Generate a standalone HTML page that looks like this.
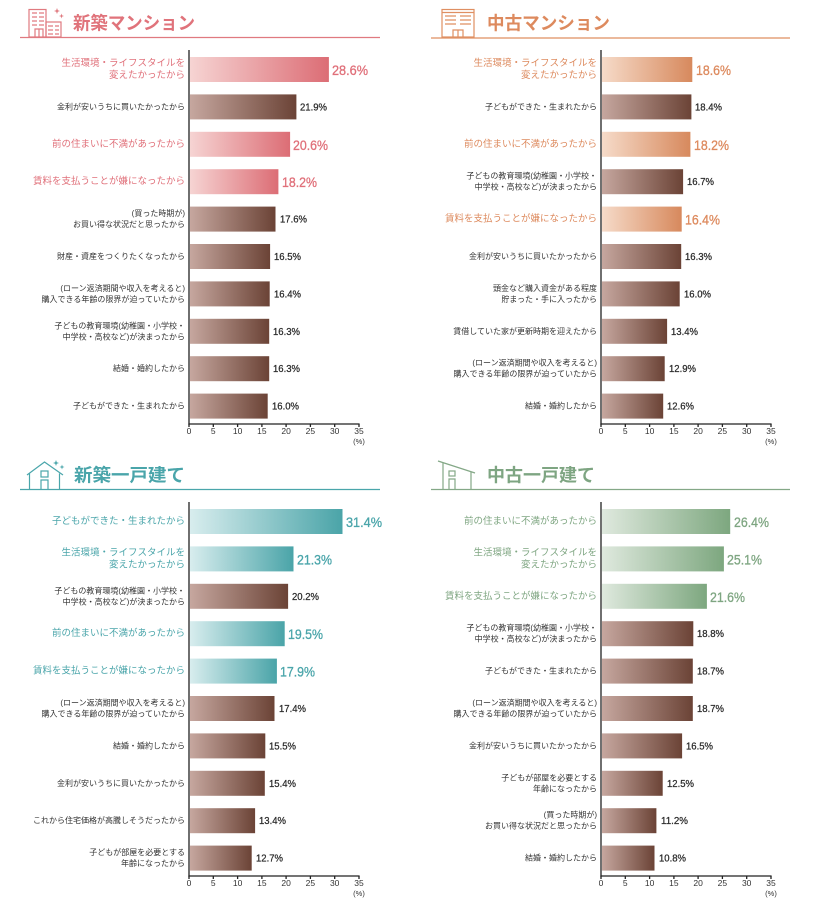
<!DOCTYPE html>
<html><head><meta charset="utf-8"><style>
html,body{margin:0;padding:0;background:#fff;}
svg{display:block;}
.l{font-family:"Liberation Sans","Noto Sans CJK JP",sans-serif;font-size:8px;fill:#333;text-anchor:end;dominant-baseline:central;}
.lh{font-size:9.5px;}
.v{font-family:"Liberation Sans",sans-serif;font-size:10.5px;fill:#2a2a2a;stroke:#2a2a2a;stroke-width:0.25;dominant-baseline:central;}
.vh{font-size:14px;stroke-width:0.3;}
.t{font-family:"Liberation Sans","Noto Sans CJK JP",sans-serif;font-size:18px;font-weight:bold;dominant-baseline:central;}
.tk{font-family:"Liberation Sans",sans-serif;font-size:8.5px;fill:#333;text-anchor:middle;dominant-baseline:central;}
.ax{stroke:#222;stroke-width:1.3;fill:none;}
</style></head><body>
<svg width="816" height="907" viewBox="0 0 816 907" xmlns="http://www.w3.org/2000/svg">
<defs>
<linearGradient id="gB" x1="0" x2="1" y1="0" y2="0"><stop offset="0" stop-color="#c6a79f"/><stop offset="1" stop-color="#6b4336"/></linearGradient>
<linearGradient id="gP" x1="0" x2="1" y1="0" y2="0"><stop offset="0" stop-color="#f6d4d3"/><stop offset="1" stop-color="#dc6d75"/></linearGradient>
<linearGradient id="gO" x1="0" x2="1" y1="0" y2="0"><stop offset="0" stop-color="#f6dbc9"/><stop offset="1" stop-color="#d7895d"/></linearGradient>
<linearGradient id="gT" x1="0" x2="1" y1="0" y2="0"><stop offset="0" stop-color="#d8edee"/><stop offset="1" stop-color="#4aa4a8"/></linearGradient>
<linearGradient id="gG" x1="0" x2="1" y1="0" y2="0"><stop offset="0" stop-color="#dfe9de"/><stop offset="1" stop-color="#7da77f"/></linearGradient>
<g id="axis">
<line class="ax" x1="189" y1="50" x2="189" y2="424.5"/>
<line class="ax" x1="188.4" y1="424" x2="359.6" y2="424"/>
<path class="ax" d="M213.3 424V427M237.6 424V427M261.9 424V427M286.1 424V427M310.4 424V427M334.7 424V427M359 424V427M189 424V427"/>
<text class="tk" x="189" y="431">0</text>
<text class="tk" x="213.3" y="431">5</text>
<text class="tk" x="237.6" y="431">10</text>
<text class="tk" x="261.9" y="431">15</text>
<text class="tk" x="286.1" y="431">20</text>
<text class="tk" x="310.4" y="431">25</text>
<text class="tk" x="334.7" y="431">30</text>
<text class="tk" x="359" y="431">35</text>
<text class="tk" x="359" y="441.5" style="font-size:7.5px">(%)</text>
</g>
</defs>

<!-- 新築マンション -->
<g fill="none" stroke="#e07a80" stroke-width="1.2">
<rect x="29" y="9.5" width="17" height="27.5"/>
<rect x="46" y="22" width="15" height="15"/>
<path d="M35 37V29H43V37M39 29V37"/>
<path d="M32 13H37M39 13H44M32 17H37M39 17H44M32 21H37M39 21H44M32 25H37M39 25H44M48 26H53M55 26H59M48 30H53M55 30H59M48 34H53M55 34H59"/>
</g>
<path d="M57 8L57.8 10.2L60 11L57.8 11.8L57 14L56.2 11.8L54 11L56.2 10.2Z M61.5 13.5L62.1 15.4L64 16L62.1 16.6L61.5 18.5L60.9 16.6L59 16L60.9 15.4Z" fill="#e07a80"/>
<line x1="20" y1="37.5" x2="380" y2="37.5" stroke="#e07a80" stroke-width="1.3"/>
<text class="t" x="73" y="23.5" fill="#e0737b" textLength="122" lengthAdjust="spacingAndGlyphs">新築マンション</text>

<!-- 中古マンション -->
<g fill="none" stroke="#df8f62" stroke-width="1.2">
<rect x="442" y="9.5" width="32" height="27.5"/>
<line x1="442" y1="12.5" x2="474" y2="12.5"/>
<path d="M453 37V30H463V37M458 30V37"/>
<path d="M445 16H456M460 16H471M445 20H456M460 20H471M445 24H456M460 24H471"/>
</g>
<line x1="431" y1="38" x2="790" y2="38" stroke="#df8f62" stroke-width="1.3"/>
<text class="t" x="487" y="23.5" fill="#dd8a5e" textLength="123" lengthAdjust="spacingAndGlyphs">中古マンション</text>

<!-- 新築一戸建て -->
<g fill="none" stroke="#4aa6ab" stroke-width="1.2">
<path d="M27 475L44.5 462L63 475"/>
<path d="M29.5 473.5V489M59.5 473.5V489"/>
<rect x="41" y="471" width="7" height="6"/>
<path d="M41 489V480H48V489"/>
</g>
<path d="M56 460L56.8 462.2L59 463L56.8 463.8L56 466L55.2 463.8L53 463L55.2 462.2Z M62 464.5L62.6 466.4L64.5 467L62.6 467.6L62 469.5L61.4 467.6L59.5 467L61.4 466.4Z" fill="#4aa6ab"/>
<line x1="20" y1="489.5" x2="380" y2="489.5" stroke="#4aa6ab" stroke-width="1.3"/>
<text class="t" x="74" y="475.5" fill="#4aa5aa" textLength="111" lengthAdjust="spacingAndGlyphs">新築一戸建て</text>

<!-- 中古一戸建て -->
<g fill="none" stroke="#84a887" stroke-width="1.2">
<path d="M438 461L475 473"/>
<path d="M443 462.6V489M471 471.7V489"/>
<rect x="449" y="471" width="6" height="5"/>
<path d="M449 489V479H455V489"/>
</g>
<line x1="431" y1="489.5" x2="790" y2="489.5" stroke="#84a887" stroke-width="1.3"/>
<text class="t" x="487" y="475.5" fill="#7ea582" textLength="108" lengthAdjust="spacingAndGlyphs">中古一戸建て</text>

<!-- PANEL 1 -->
<g>
<use href="#axis"/>
<rect x="190" y="57" width="138.9" height="25" fill="url(#gP)"/>
<text class="l lh" x="185" y="63.5" style="fill:#e0707a">生活環境・ライフスタイルを</text>
<text class="l lh" x="185" y="75.5" style="fill:#e0707a">変えたかったから</text>
<text class="v vh" x="332" y="70" style="fill:#e0707a;stroke:#e0707a" textLength="36" lengthAdjust="spacingAndGlyphs">28.6%</text>

<rect x="190" y="94.4" width="106.4" height="25" fill="url(#gB)"/>
<text class="l" x="185" y="106.9">金利が安いうちに買いたかったから</text>
<text class="v" x="300" y="107.4" textLength="27" lengthAdjust="spacingAndGlyphs">21.9%</text>

<rect x="190" y="131.8" width="100.1" height="25" fill="url(#gP)"/>
<text class="l lh" x="185" y="144.3" style="fill:#e0707a">前の住まいに不満があったから</text>
<text class="v vh" x="293" y="144.8" style="fill:#e0707a;stroke:#e0707a" textLength="35" lengthAdjust="spacingAndGlyphs">20.6%</text>

<rect x="190" y="169.2" width="88.4" height="25" fill="url(#gP)"/>
<text class="l lh" x="185" y="181.7" style="fill:#e0707a">賃料を支払うことが嫌になったから</text>
<text class="v vh" x="282" y="182.2" style="fill:#e0707a;stroke:#e0707a" textLength="35" lengthAdjust="spacingAndGlyphs">18.2%</text>

<rect x="190" y="206.6" width="85.5" height="25" fill="url(#gB)"/>
<text class="l" x="185" y="213.6">(買った時期が)</text>
<text class="l" x="185" y="224.6">お買い得な状況だと思ったから</text>
<text class="v" x="280" y="219.6" textLength="27" lengthAdjust="spacingAndGlyphs">17.6%</text>

<rect x="190" y="244" width="80.1" height="25" fill="url(#gB)"/>
<text class="l" x="185" y="256.5">財産・資産をつくりたくなったから</text>
<text class="v" x="274" y="257" textLength="27" lengthAdjust="spacingAndGlyphs">16.5%</text>

<rect x="190" y="281.4" width="79.7" height="25" fill="url(#gB)"/>
<text class="l" x="185" y="288.4">(ローン返済期間や収入を考えると)</text>
<text class="l" x="185" y="299.4">購入できる年齢の限界が迫っていたから</text>
<text class="v" x="274" y="294.4" textLength="27" lengthAdjust="spacingAndGlyphs">16.4%</text>

<rect x="190" y="318.8" width="79.2" height="25" fill="url(#gB)"/>
<text class="l" x="185" y="325.8">子どもの教育環境(幼稚園・小学校・</text>
<text class="l" x="185" y="336.8">中学校・高校など)が決まったから</text>
<text class="v" x="273" y="331.8" textLength="27" lengthAdjust="spacingAndGlyphs">16.3%</text>

<rect x="190" y="356.2" width="79.2" height="25" fill="url(#gB)"/>
<text class="l" x="185" y="368.7">結婚・婚約したから</text>
<text class="v" x="273" y="369.2" textLength="27" lengthAdjust="spacingAndGlyphs">16.3%</text>

<rect x="190" y="393.6" width="77.7" height="25" fill="url(#gB)"/>
<text class="l" x="185" y="406.1">子どもができた・生まれたから</text>
<text class="v" x="272" y="406.6" textLength="27" lengthAdjust="spacingAndGlyphs">16.0%</text>
</g>

<!-- PANEL 2 -->
<g transform="translate(412,0)">
<use href="#axis"/>
<rect x="190" y="57" width="90.3" height="25" fill="url(#gO)"/>
<text class="l lh" x="185" y="63.5" style="fill:#dd8a5e">生活環境・ライフスタイルを</text>
<text class="l lh" x="185" y="75.5" style="fill:#dd8a5e">変えたかったから</text>
<text class="v vh" x="284" y="70" style="fill:#dd8a5e;stroke:#dd8a5e" textLength="35" lengthAdjust="spacingAndGlyphs">18.6%</text>

<rect x="190" y="94.4" width="89.4" height="25" fill="url(#gB)"/>
<text class="l" x="185" y="106.9">子どもができた・生まれたから</text>
<text class="v" x="283" y="107.4" textLength="27" lengthAdjust="spacingAndGlyphs">18.4%</text>

<rect x="190" y="131.8" width="88.4" height="25" fill="url(#gO)"/>
<text class="l lh" x="185" y="144.3" style="fill:#dd8a5e">前の住まいに不満があったから</text>
<text class="v vh" x="282" y="144.8" style="fill:#dd8a5e;stroke:#dd8a5e" textLength="35" lengthAdjust="spacingAndGlyphs">18.2%</text>

<rect x="190" y="169.2" width="81.1" height="25" fill="url(#gB)"/>
<text class="l" x="185" y="176.2">子どもの教育環境(幼稚園・小学校・</text>
<text class="l" x="185" y="187.2">中学校・高校など)が決まったから</text>
<text class="v" x="275" y="182.2" textLength="27" lengthAdjust="spacingAndGlyphs">16.7%</text>

<rect x="190" y="206.6" width="79.7" height="25" fill="url(#gO)"/>
<text class="l lh" x="185" y="219.1" style="fill:#dd8a5e">賃料を支払うことが嫌になったから</text>
<text class="v vh" x="273" y="219.6" style="fill:#dd8a5e;stroke:#dd8a5e" textLength="35" lengthAdjust="spacingAndGlyphs">16.4%</text>

<rect x="190" y="244" width="79.2" height="25" fill="url(#gB)"/>
<text class="l" x="185" y="256.5">金利が安いうちに買いたかったから</text>
<text class="v" x="273" y="257" textLength="27" lengthAdjust="spacingAndGlyphs">16.3%</text>

<rect x="190" y="281.4" width="77.7" height="25" fill="url(#gB)"/>
<text class="l" x="185" y="288.4">頭金など購入資金がある程度</text>
<text class="l" x="185" y="299.4">貯まった・手に入ったから</text>
<text class="v" x="272" y="294.4" textLength="27" lengthAdjust="spacingAndGlyphs">16.0%</text>

<rect x="190" y="318.8" width="65.1" height="25" fill="url(#gB)"/>
<text class="l" x="185" y="331.3">賃借していた家が更新時期を迎えたから</text>
<text class="v" x="259" y="331.8" textLength="27" lengthAdjust="spacingAndGlyphs">13.4%</text>

<rect x="190" y="356.2" width="62.7" height="25" fill="url(#gB)"/>
<text class="l" x="185" y="363.2">(ローン返済期間や収入を考えると)</text>
<text class="l" x="185" y="374.2">購入できる年齢の限界が迫っていたから</text>
<text class="v" x="257" y="369.2" textLength="27" lengthAdjust="spacingAndGlyphs">12.9%</text>

<rect x="190" y="393.6" width="61.2" height="25" fill="url(#gB)"/>
<text class="l" x="185" y="406.1">結婚・婚約したから</text>
<text class="v" x="255" y="406.6" textLength="27" lengthAdjust="spacingAndGlyphs">12.6%</text>
</g>

<!-- PANEL 3 -->
<g transform="translate(0,452)">
<use href="#axis"/>
<rect x="190" y="57" width="152.5" height="25" fill="url(#gT)"/>
<text class="l lh" x="185" y="69.5" style="fill:#4aa5aa">子どもができた・生まれたから</text>
<text class="v vh" x="346" y="70" style="fill:#4aa5aa;stroke:#4aa5aa" textLength="36" lengthAdjust="spacingAndGlyphs">31.4%</text>

<rect x="190" y="94.4" width="103.5" height="25" fill="url(#gT)"/>
<text class="l lh" x="185" y="100.9" style="fill:#4aa5aa">生活環境・ライフスタイルを</text>
<text class="l lh" x="185" y="112.9" style="fill:#4aa5aa">変えたかったから</text>
<text class="v vh" x="297" y="107.4" style="fill:#4aa5aa;stroke:#4aa5aa" textLength="35" lengthAdjust="spacingAndGlyphs">21.3%</text>

<rect x="190" y="131.8" width="98.1" height="25" fill="url(#gB)"/>
<text class="l" x="185" y="138.8">子どもの教育環境(幼稚園・小学校・</text>
<text class="l" x="185" y="149.8">中学校・高校など)が決まったから</text>
<text class="v" x="292" y="144.8" textLength="27" lengthAdjust="spacingAndGlyphs">20.2%</text>

<rect x="190" y="169.2" width="94.7" height="25" fill="url(#gT)"/>
<text class="l lh" x="185" y="181.7" style="fill:#4aa5aa">前の住まいに不満があったから</text>
<text class="v vh" x="288" y="182.2" style="fill:#4aa5aa;stroke:#4aa5aa" textLength="35" lengthAdjust="spacingAndGlyphs">19.5%</text>

<rect x="190" y="206.6" width="86.9" height="25" fill="url(#gT)"/>
<text class="l lh" x="185" y="219.1" style="fill:#4aa5aa">賃料を支払うことが嫌になったから</text>
<text class="v vh" x="280" y="219.6" style="fill:#4aa5aa;stroke:#4aa5aa" textLength="35" lengthAdjust="spacingAndGlyphs">17.9%</text>

<rect x="190" y="244" width="84.5" height="25" fill="url(#gB)"/>
<text class="l" x="185" y="251">(ローン返済期間や収入を考えると)</text>
<text class="l" x="185" y="262">購入できる年齢の限界が迫っていたから</text>
<text class="v" x="279" y="257" textLength="27" lengthAdjust="spacingAndGlyphs">17.4%</text>

<rect x="190" y="281.4" width="75.3" height="25" fill="url(#gB)"/>
<text class="l" x="185" y="293.9">結婚・婚約したから</text>
<text class="v" x="269" y="294.4" textLength="27" lengthAdjust="spacingAndGlyphs">15.5%</text>

<rect x="190" y="318.8" width="74.8" height="25" fill="url(#gB)"/>
<text class="l" x="185" y="331.3">金利が安いうちに買いたかったから</text>
<text class="v" x="269" y="331.8" textLength="27" lengthAdjust="spacingAndGlyphs">15.4%</text>

<rect x="190" y="356.2" width="65.1" height="25" fill="url(#gB)"/>
<text class="l" x="185" y="368.7">これから住宅価格が高騰しそうだったから</text>
<text class="v" x="259" y="369.2" textLength="27" lengthAdjust="spacingAndGlyphs">13.4%</text>

<rect x="190" y="393.6" width="61.7" height="25" fill="url(#gB)"/>
<text class="l" x="185" y="400.6">子どもが部屋を必要とする</text>
<text class="l" x="185" y="411.6">年齢になったから</text>
<text class="v" x="256" y="406.6" textLength="27" lengthAdjust="spacingAndGlyphs">12.7%</text>
</g>

<!-- PANEL 4 -->
<g transform="translate(412,452)">
<use href="#axis"/>
<rect x="190" y="57" width="128.2" height="25" fill="url(#gG)"/>
<text class="l lh" x="185" y="69.5" style="fill:#7fa682">前の住まいに不満があったから</text>
<text class="v vh" x="322" y="70" style="fill:#7fa682;stroke:#7fa682" textLength="35" lengthAdjust="spacingAndGlyphs">26.4%</text>

<rect x="190" y="94.4" width="121.9" height="25" fill="url(#gG)"/>
<text class="l lh" x="185" y="100.9" style="fill:#7fa682">生活環境・ライフスタイルを</text>
<text class="l lh" x="185" y="112.9" style="fill:#7fa682">変えたかったから</text>
<text class="v vh" x="315" y="107.4" style="fill:#7fa682;stroke:#7fa682" textLength="35" lengthAdjust="spacingAndGlyphs">25.1%</text>

<rect x="190" y="131.8" width="104.9" height="25" fill="url(#gG)"/>
<text class="l lh" x="185" y="144.3" style="fill:#7fa682">賃料を支払うことが嫌になったから</text>
<text class="v vh" x="298" y="144.8" style="fill:#7fa682;stroke:#7fa682" textLength="35" lengthAdjust="spacingAndGlyphs">21.6%</text>

<rect x="190" y="169.2" width="91.3" height="25" fill="url(#gB)"/>
<text class="l" x="185" y="176.2">子どもの教育環境(幼稚園・小学校・</text>
<text class="l" x="185" y="187.2">中学校・高校など)が決まったから</text>
<text class="v" x="285" y="182.2" textLength="27" lengthAdjust="spacingAndGlyphs">18.8%</text>

<rect x="190" y="206.6" width="90.8" height="25" fill="url(#gB)"/>
<text class="l" x="185" y="219.1">子どもができた・生まれたから</text>
<text class="v" x="285" y="219.6" textLength="27" lengthAdjust="spacingAndGlyphs">18.7%</text>

<rect x="190" y="244" width="90.8" height="25" fill="url(#gB)"/>
<text class="l" x="185" y="251">(ローン返済期間や収入を考えると)</text>
<text class="l" x="185" y="262">購入できる年齢の限界が迫っていたから</text>
<text class="v" x="285" y="257" textLength="27" lengthAdjust="spacingAndGlyphs">18.7%</text>

<rect x="190" y="281.4" width="80.1" height="25" fill="url(#gB)"/>
<text class="l" x="185" y="293.9">金利が安いうちに買いたかったから</text>
<text class="v" x="274" y="294.4" textLength="27" lengthAdjust="spacingAndGlyphs">16.5%</text>

<rect x="190" y="318.8" width="60.7" height="25" fill="url(#gB)"/>
<text class="l" x="185" y="325.8">子どもが部屋を必要とする</text>
<text class="l" x="185" y="336.8">年齢になったから</text>
<text class="v" x="255" y="331.8" textLength="27" lengthAdjust="spacingAndGlyphs">12.5%</text>

<rect x="190" y="356.2" width="54.4" height="25" fill="url(#gB)"/>
<text class="l" x="185" y="363.2">(買った時期が)</text>
<text class="l" x="185" y="374.2">お買い得な状況だと思ったから</text>
<text class="v" x="249" y="369.2" textLength="27" lengthAdjust="spacingAndGlyphs">11.2%</text>

<rect x="190" y="393.6" width="52.5" height="25" fill="url(#gB)"/>
<text class="l" x="185" y="406.1">結婚・婚約したから</text>
<text class="v" x="247" y="406.6" textLength="27" lengthAdjust="spacingAndGlyphs">10.8%</text>
</g>
</svg>
</body></html>
